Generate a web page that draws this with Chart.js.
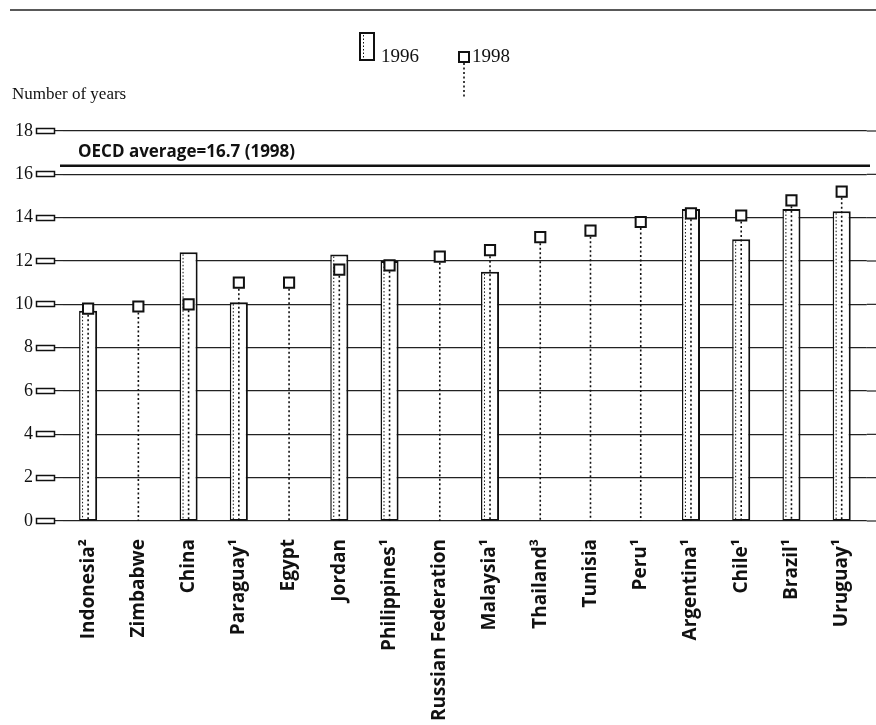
<!DOCTYPE html>
<html>
<head>
<meta charset="utf-8">
<script src="https://cdn.jsdelivr.net/npm/chart.js@4.4.1/dist/chart.umd.min.js"></script>
<style>
  html, body { margin: 0; padding: 0; background: #fff; }
  #wrap { width: 876px; height: 725px; position: relative; }
</style>
</head>
<body>
<div id="wrap"><canvas id="chart" width="876" height="725"></canvas></div>
<script>
// data
const countries = ['Indonesia²', 'Zimbabwe', 'China', 'Paraguay¹', 'Egypt', 'Jordan', 'Philippines¹',
    'Russian Federation', 'Malaysia¹', 'Thailand³', 'Tunisia', 'Peru¹', 'Argentina¹', 'Chile¹', 'Brazil¹', 'Uruguay¹'];
const years1996 = [9.7, null, 12.4, 10.1, null, 12.3, 12.0, null, 11.5, null, null, null, 14.4, 13.0, 14.4, 14.3];
const years1998 = [9.8, 9.9, 10.0, 11.0, 11.0, 11.6, 11.8, 12.2, 12.5, 13.1, 13.4, 13.8, 14.2, 14.1, 14.8, 15.2];
const yTicks = [0, 2, 4, 6, 8, 10, 12, 14, 16, 18];
const oecdLine = 16.4;
const oecdLabel = 'OECD average=16.7 (1998)';
const yTitle = 'Number of years';
const legendLabels = ['1996', '1998'];

const serif = '"Liberation Serif", "DejaVu Serif", serif';
const sans = '"Open Sans", "DejaVu Sans", sans-serif';
const ink = '#111';

const decorations = {
    id: 'decorations',
    beforeDatasetDraw(chart, args) {
        const { ctx, scales: { x, y } } = chart;
        if (args.index === 0) {
            // grid extension to page edge, OECD reference line + label
            ctx.save();
            ctx.strokeStyle = '#222';
            ctx.lineWidth = 1.2;
            yTicks.forEach(v => {
                const py = y.getPixelForValue(v);
                ctx.beginPath();
                ctx.moveTo(chart.chartArea.right, py);
                ctx.lineTo(chart.width, py);
                ctx.stroke();
            });
            ctx.strokeStyle = ink;
            ctx.lineWidth = 2.5;
            const oy = y.getPixelForValue(oecdLine);
            ctx.beginPath();
            ctx.moveTo(60, oy);
            ctx.lineTo(870, oy);
            ctx.stroke();
            ctx.fillStyle = ink;
            ctx.font = 'bold 17px ' + sans;
            ctx.textBaseline = 'alphabetic';
            ctx.fillText(oecdLabel, 78, oy - 9);
            ctx.restore();
        }
        if (args.index === 1) {
            // dotted drop lines from 1998 markers to the baseline
            ctx.save();
            ctx.strokeStyle = ink;
            ctx.lineWidth = 1.6;
            ctx.setLineDash([2, 2.5]);
            const base = y.getPixelForValue(0);
            years1998.forEach((v, i) => {
                const px = x.getPixelForValue(i);
                ctx.beginPath();
                ctx.moveTo(px, y.getPixelForValue(v) + 6);
                ctx.lineTo(px, base);
                ctx.stroke();
            });
            // thin dotted inner edge of the 1996 bars
            ctx.lineWidth = 1;
            ctx.setLineDash([1.5, 2]);
            chart.getDatasetMeta(0).data.forEach((bar, i) => {
                if (years1996[i] == null) return;
                const lx = bar.x - bar.width / 2 + 3.5;
                ctx.beginPath();
                ctx.moveTo(lx, bar.y + 2);
                ctx.lineTo(lx, bar.base);
                ctx.stroke();
            });
            ctx.restore();
        }
    },
    afterDraw(chart) {
        const { ctx, scales: { y } } = chart;
        ctx.save();
        // top rule
        ctx.strokeStyle = '#222';
        ctx.lineWidth = 1.5;
        ctx.beginPath();
        ctx.moveTo(10, 10);
        ctx.lineTo(876, 10);
        ctx.stroke();

        // small hollow tick rectangles on the y axis
        ctx.lineWidth = 1.5;
        ctx.strokeStyle = ink;
        ctx.fillStyle = '#fff';
        yTicks.forEach(v => {
            const py = Math.round(y.getPixelForValue(v));
            ctx.fillRect(36.5, py - 2.5, 18, 5);
            ctx.strokeRect(36.5, py - 2.5, 18, 5);
        });

        // axis title
        ctx.fillStyle = ink;
        ctx.font = '17px ' + serif;
        ctx.textBaseline = 'alphabetic';
        ctx.fillText(yTitle, 12, 99);

        // legend
        ctx.lineWidth = 2;
        ctx.strokeRect(360, 33, 14, 27);
        ctx.setLineDash([1.5, 2]);
        ctx.lineWidth = 1;
        ctx.beginPath();
        ctx.moveTo(363.5, 35);
        ctx.lineTo(363.5, 59);
        ctx.stroke();
        ctx.setLineDash([]);
        ctx.font = '19px ' + serif;
        ctx.fillText(legendLabels[0], 381, 62);

        ctx.lineWidth = 2;
        ctx.fillStyle = '#fff';
        ctx.fillRect(459, 52, 10, 10);
        ctx.strokeRect(459, 52, 10, 10);
        ctx.setLineDash([2, 2.5]);
        ctx.lineWidth = 1.6;
        ctx.beginPath();
        ctx.moveTo(464, 63);
        ctx.lineTo(464, 98);
        ctx.stroke();
        ctx.setLineDash([]);
        ctx.fillStyle = ink;
        ctx.fillText(legendLabels[1], 472, 62);
        ctx.restore();
    }
};

new Chart(document.getElementById('chart').getContext('2d'), {
    type: 'bar',
    data: {
        labels: countries,
        datasets: [{
            label: '1996',
            data: years1996,
            backgroundColor: '#fff',
            borderColor: ink,
            borderWidth: { left: 1.5, top: 2, right: 2, bottom: 1.5 },
            borderSkipped: false,
            barPercentage: 0.36,
            categoryPercentage: 1,
            order: 2
        }, {
            type: 'line',
            label: '1998',
            data: years1998,
            showLine: false,
            pointStyle: 'rect',
            pointRadius: 7.2,
            pointBorderWidth: 2,
            pointBackgroundColor: '#fff',
            pointBorderColor: ink,
            order: 1
        }]
    },
    options: {
        responsive: false,
        animation: false,
        events: [],
        layout: { padding: { top: 131, right: 9, left: 0, bottom: 0 } },
        plugins: {
            legend: { display: false },
            tooltip: { enabled: false }
        },
        scales: {
            x: {
                grid: { display: false },
                border: { display: false },
                ticks: {
                    minRotation: 90,
                    maxRotation: 90,
                    autoSkip: false,
                    padding: 10,
                    color: ink,
                    font: { family: sans, size: 19, weight: 'bold' }
                },
                afterFit(scale) { scale.height = 204; }
            },
            y: {
                min: 0,
                max: 18,
                border: { display: false },
                grid: {
                    color: '#222',
                    lineWidth: 1.2,
                    drawTicks: true,
                    tickLength: 8,
                    tickColor: '#222'
                },
                ticks: {
                    stepSize: 2,
                    padding: 22,
                    color: ink,
                    font: { family: serif, size: 18 }
                },
                afterFit(scale) { scale.width = 63; }
            }
        }
    },
    plugins: [decorations]
});
</script>
</body>
</html>
